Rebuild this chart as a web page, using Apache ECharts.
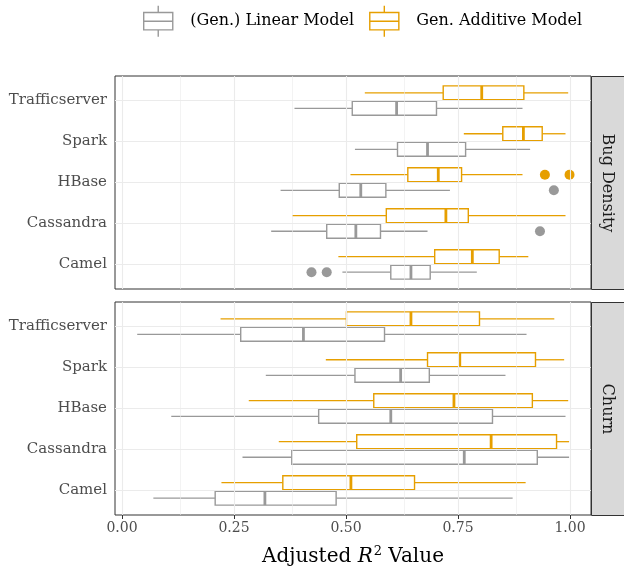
<!DOCTYPE html>
<html>
<head>
<meta charset="utf-8">
<script src="https://cdn.jsdelivr.net/npm/echarts@6/dist/echarts.min.js"></script>
<style>html,body{margin:0;padding:0;background:#fff}#c{width:624px;height:571px}</style>
</head>
<body>
<div id="c"></div>
<script>
// Categories, bottom to top
const categories = ['Camel', 'Cassandra', 'HBase', 'Spark', 'Trafficserver'];
const facets = ['Bug Density', 'Churn'];
const models = ['(Gen.) Linear Model', 'Gen. Additive Model'];
const xTicks = [0, 0.25, 0.5, 0.75, 1.0];
const xMinor = [0.125, 0.375, 0.625, 0.875];

// [lowWhisker, Q1, median, Q3, highWhisker] per category (Camel..Trafficserver)
const bugLinear = [
  [0.492, 0.600, 0.645, 0.688, 0.792],
  [0.333, 0.457, 0.522, 0.577, 0.682],
  [0.354, 0.485, 0.533, 0.589, 0.732],
  [0.520, 0.615, 0.682, 0.767, 0.911],
  [0.385, 0.514, 0.613, 0.702, 0.894]
];
const bugGam = [
  [0.483, 0.698, 0.782, 0.842, 0.907],
  [0.380, 0.590, 0.723, 0.773, 0.990],
  [0.510, 0.638, 0.706, 0.758, 0.894],
  [0.763, 0.850, 0.896, 0.938, 0.990],
  [0.542, 0.717, 0.803, 0.897, 0.996]
];
const churnLinear = [
  [0.070, 0.208, 0.319, 0.478, 0.872],
  [0.269, 0.379, 0.764, 0.927, 0.998],
  [0.110, 0.439, 0.600, 0.827, 0.990],
  [0.321, 0.520, 0.622, 0.686, 0.856],
  [0.034, 0.265, 0.405, 0.586, 0.903]
];
const churnGam = [
  [0.222, 0.359, 0.511, 0.653, 0.901],
  [0.350, 0.524, 0.824, 0.970, 0.998],
  [0.283, 0.562, 0.741, 0.916, 0.996],
  [0.455, 0.682, 0.754, 0.923, 0.987],
  [0.220, 0.501, 0.645, 0.798, 0.965]
];
// outliers: [value, category]
const bugLinearOutliers = [[0.423, 'Camel'], [0.457, 'Camel'], [0.933, 'Cassandra'], [0.964, 'HBase']];
const bugGamOutliers = [[0.944, 'HBase'], [0.999, 'HBase']];
const churnLinearOutliers = [];
const churnGamOutliers = [];

const GREY = '#999999', ORANGE = '#E69F00';
const FONT = 'DejaVu Serif';
const DODGE = 0.19, HALF = 0.17;

function boxData(arr) {
  return arr.map((v, i) => [i + 1].concat(v));
}
function outlierData(arr) {
  return arr.map(o => [o[0], categories.indexOf(o[1]) + 1]);
}

function renderBox(shift, color) {
  return function (params, api) {
    const y = api.value(0) + shift;
    const lo = api.value(1), q1 = api.value(2), med = api.value(3), q3 = api.value(4), hi = api.value(5);
    const pLo = api.coord([lo, y]), pHi = api.coord([hi, y]);
    const pQ1t = api.coord([q1, y + HALF]), pQ3b = api.coord([q3, y - HALF]);
    const pQ1m = api.coord([q1, y]), pQ3m = api.coord([q3, y]);
    const pMt = api.coord([med, y + HALF]), pMb = api.coord([med, y - HALF]);
    const ls = { stroke: color, lineWidth: 1.3, fill: null };
    return {
      type: 'group',
      children: [
        { type: 'line', shape: { x1: pLo[0], y1: pLo[1], x2: pQ1m[0], y2: pQ1m[1] }, style: ls },
        { type: 'line', shape: { x1: pQ3m[0], y1: pQ3m[1], x2: pHi[0], y2: pHi[1] }, style: ls },
        { type: 'rect', shape: { x: pQ1t[0], y: pQ1t[1], width: pQ3b[0] - pQ1t[0], height: pQ3b[1] - pQ1t[1] },
          style: { stroke: color, lineWidth: 1.4, fill: '#ffffff' } },
        { type: 'line', shape: { x1: pMt[0], y1: pMt[1], x2: pMb[0], y2: pMb[1] }, style: { stroke: color, lineWidth: 2.8 } }
      ]
    };
  };
}

const gridTops = [76, 302];
const grids = gridTops.map(t => ({
  left: 115, top: t, width: 476, height: 213,
  show: true, borderColor: '#333333', borderWidth: 1, backgroundColor: '#ffffff'
}));

const xAxes = [0, 1].map(i => ({
  type: 'value', gridIndex: i, min: -0.0156, max: 1.0469,
  splitLine: { show: false }, axisLine: { show: false },
  axisTick: { show: i === 1, customValues: xTicks, length: 4, lineStyle: { color: '#333333' } },
  axisLabel: { show: i === 1, customValues: xTicks, formatter: v => v.toFixed(2), color: '#4d4d4d',
    fontFamily: FONT, fontSize: 14, margin: 6 },
  name: i === 1 ? '{a|Adjusted }{i|R}{s|2}{a| Value}' : '',
  nameLocation: 'middle', nameGap: 30,
  nameTextStyle: {
    rich: {
      a: { fontFamily: FONT, fontSize: 20, color: '#000' },
      i: { fontFamily: FONT, fontSize: 20, fontStyle: 'italic', color: '#000' },
      s: { fontFamily: FONT, fontSize: 13, color: '#000', padding: [0, 0, 10, 1] }
    }
  }
}));

const yAxes = [0, 1].map(i => ({
  type: 'value', gridIndex: i, min: 0.4, max: 5.6,
  splitLine: { show: false }, axisLine: { show: false },
  axisTick: { show: true, customValues: [1, 2, 3, 4, 5], length: 4, lineStyle: { color: '#333333' } },
  axisLabel: { customValues: [1, 2, 3, 4, 5], formatter: v => categories[Math.round(v) - 1],
    color: '#4d4d4d', fontFamily: FONT, fontSize: 15, margin: 8 }
}));

const gridLineData = xTicks.map(v => ({ xAxis: v, lineStyle: { width: 1.1 } }))
  .concat(xMinor.map(v => ({ xAxis: v, lineStyle: { width: 0.6 } })))
  .concat([1, 2, 3, 4, 5].map(v => ({ yAxis: v, lineStyle: { width: 1.1 } })));

const series = [];
const sets = [[bugLinear, bugGam, bugLinearOutliers, bugGamOutliers], [churnLinear, churnGam, churnLinearOutliers, churnGamOutliers]];
sets.forEach((s, gi) => {
  series.push({
    type: 'scatter', name: 'grid' + gi, xAxisIndex: gi, yAxisIndex: gi, data: [], z: 1, silent: true,
    markLine: { silent: true, symbol: 'none', label: { show: false }, animation: false,
      lineStyle: { color: '#ebebeb', type: 'solid' }, emphasis: { disabled: true }, data: gridLineData }
  });
  series.push({
    type: 'custom', name: models[0], xAxisIndex: gi, yAxisIndex: gi, z: 3,
    itemStyle: { color: GREY }, renderItem: renderBox(-DODGE, GREY), data: boxData(s[0]),
    encode: { x: [1, 2, 3, 4, 5], y: 0 }
  });
  series.push({
    type: 'custom', name: models[1], xAxisIndex: gi, yAxisIndex: gi, z: 3,
    itemStyle: { color: ORANGE }, renderItem: renderBox(DODGE, ORANGE), data: boxData(s[1]),
    encode: { x: [1, 2, 3, 4, 5], y: 0 }
  });
  series.push({
    type: 'scatter', name: models[0], xAxisIndex: gi, yAxisIndex: gi, z: 4, symbolSize: 10,
    itemStyle: { color: GREY, opacity: 1 }, data: outlierData(s[2]).map(p => [p[0], p[1] - DODGE])
  });
  series.push({
    type: 'scatter', name: models[1], xAxisIndex: gi, yAxisIndex: gi, z: 4, symbolSize: 10,
    itemStyle: { color: ORANGE, opacity: 1 }, data: outlierData(s[3]).map(p => [p[0], p[1] + DODGE])
  });
});

const boxIcon = 'path://M15,0L15,7M0,7L30,7L30,25L0,25ZM0,16L30,16M15,25L15,32';

const option = {
  animation: false,
  backgroundColor: '#ffffff',
  grid: grids,
  xAxis: xAxes,
  yAxis: yAxes,
  legend: {
    left: 143, top: 5, padding: 0, itemWidth: 30, itemHeight: 31, itemGap: 15,
    textStyle: { fontFamily: FONT, fontSize: 16, color: '#000', padding: [0, 0, 0, 12] },
    data: [
      { name: models[0], icon: boxIcon, itemStyle: { color: '#ffffff', borderColor: GREY, borderWidth: 1.4 } },
      { name: models[1], icon: boxIcon, itemStyle: { color: '#ffffff', borderColor: ORANGE, borderWidth: 1.4 } }
    ]
  },
  graphic: facets.map((f, i) => ({
    type: 'group', left: 591, top: gridTops[i],
    children: [
      { type: 'rect', shape: { x: 0, y: 0, width: 34, height: 213 }, style: { fill: '#d9d9d9', stroke: '#333333', lineWidth: 1 } },
      { type: 'text', x: 16, y: 106.5, rotation: -Math.PI / 2,
        style: { text: f, fontFamily: FONT, fontSize: 16, fill: '#1a1a1a', align: 'center', verticalAlign: 'middle' } }
    ]
  })),
  series: series
};

const chart = echarts.init(document.getElementById('c'), null, { renderer: 'canvas' });
chart.setOption(option);
</script>
</body>
</html>
